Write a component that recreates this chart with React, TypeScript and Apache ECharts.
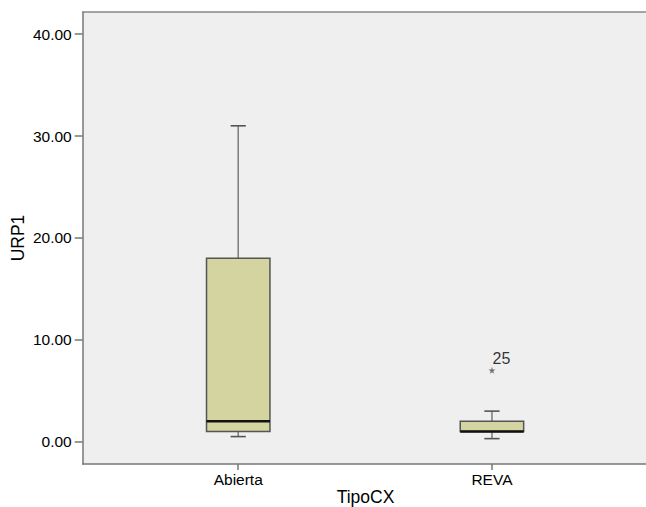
import React, { useEffect, useRef } from "react";
import * as echarts from "echarts";

const categories = ["Abierta", "REVA"];
const minValues = [0.5, 0.3];
const q1Values = [1, 1];
const medianValues = [2, 1];
const q3Values = [18, 2];
const maxValues = [31, 3];
const outlierPoints = [[1, 7]];
const outlierLabels = ["25"];
const yTicks = [0, 10, 20, 30, 40];
const xTicks = [0, 1];

const FONT = "'Liberation Sans', Arial, Helvetica, sans-serif";

export default function App() {
  const ref = useRef<HTMLDivElement>(null);
  useEffect(() => {
    if (!ref.current) return;
    const chart = echarts.init(ref.current, null, { renderer: "svg" });
    const boxData = categories.map((_, i) => [
      i,
      minValues[i],
      q1Values[i],
      medianValues[i],
      q3Values[i],
      maxValues[i],
    ]);
    const axisLineStyle = { color: "#777", width: 1.5 };
    const xMin = -0.613;
    const xMax = 1.82;
    chart.setOption({
      animation: false,
      backgroundColor: "#ffffff",
      textStyle: { fontFamily: FONT },
      grid: {
        left: 82.7,
        top: 12,
        right: 20,
        bottom: 43,
        containLabel: false,
        outerBoundsMode: "none",
        show: true,
        backgroundColor: "#efefef",
        borderWidth: 0,
      },
      xAxis: [
        {
          type: "value",
          min: xMin,
          max: xMax,
          axisLine: { show: true, onZero: false, lineStyle: axisLineStyle },
          axisTick: { show: true, length: 6, customValues: xTicks, lineStyle: axisLineStyle },
          axisLabel: {
            customValues: xTicks,
            formatter: (v: number) => categories[Math.round(v)] ?? "",
            fontSize: 15.5,
            color: "#000",
            margin: 7,
            fontFamily: FONT,
          },
          splitLine: { show: false },
        },
        {
          type: "value",
          position: "top",
          min: xMin,
          max: xMax,
          axisLine: { show: true, onZero: false, lineStyle: { color: "#888", width: 1.5 } },
          axisTick: { show: false },
          axisLabel: { show: false },
          splitLine: { show: false },
        },
      ],
      yAxis: {
        type: "value",
        min: -2.19,
        max: 42.17,
        name: "URP1",
        nameLocation: "middle",
        nameGap: 56,
        nameMoveOverlap: false,
        nameTextStyle: { fontSize: 17.5, color: "#000", fontFamily: FONT },
        axisLine: { show: true, onZero: false, lineStyle: axisLineStyle },
        axisTick: { show: true, length: 8, customValues: yTicks, lineStyle: axisLineStyle },
        axisLabel: {
          customValues: yTicks,
          formatter: (v: number) => v.toFixed(2),
          fontSize: 15.5,
          color: "#000",
          margin: 11,
          fontFamily: FONT,
        },
        splitLine: { show: false },
      },
      graphic: [
        {
          type: "text",
          x: 365.5,
          y: 497,
          style: {
            text: "TipoCX",
            fontSize: 17.5,
            fontFamily: FONT,
            fill: "#000",
            align: "center",
            verticalAlign: "middle",
          },
        },
      ],
      series: [
        {
          type: "custom",
          data: boxData,
          encode: { x: 0, y: [1, 2, 3, 4, 5] },
          renderItem: (params: any, api: any) => {
            const x = api.value(0);
            const pMin = api.coord([x, api.value(1)]);
            const pQ1 = api.coord([x, api.value(2)]);
            const pMed = api.coord([x, api.value(3)]);
            const pQ3 = api.coord([x, api.value(4)]);
            const pMax = api.coord([x, api.value(5)]);
            const cx = pMed[0];
            const half = api.size([0.25, 0])[0] / 2;
            const capHalf = api.size([0.06, 0])[0] / 2;
            const whisker = { stroke: "#808080", lineWidth: 1.6 };
            const cap = { stroke: "#555", lineWidth: 1.6 };
            return {
              type: "group",
              children: [
                { type: "line", shape: { x1: cx, y1: pQ3[1], x2: cx, y2: pMax[1] }, style: whisker },
                { type: "line", shape: { x1: cx, y1: pQ1[1], x2: cx, y2: pMin[1] }, style: whisker },
                { type: "line", shape: { x1: cx - capHalf, y1: pMax[1], x2: cx + capHalf, y2: pMax[1] }, style: cap },
                { type: "line", shape: { x1: cx - capHalf, y1: pMin[1], x2: cx + capHalf, y2: pMin[1] }, style: cap },
                {
                  type: "rect",
                  shape: { x: cx - half, y: pQ3[1], width: half * 2, height: pQ1[1] - pQ3[1] },
                  style: { fill: "#d3d4a0", stroke: "#555", lineWidth: 1.5 },
                },
                { type: "line", shape: { x1: cx - half, y1: pMed[1], x2: cx + half, y2: pMed[1] }, style: { stroke: "#111", lineWidth: 2.5 } },
              ],
            };
          },
        },
        {
          type: "scatter",
          data: outlierPoints,
          symbol:
            "path://M0,-1 L0.22,-0.3 L0.95,-0.3 L0.36,0.12 L0.59,0.81 L0,0.38 L-0.59,0.81 L-0.36,0.12 L-0.95,-0.3 L-0.22,-0.3 Z",
          symbolSize: 7,
          itemStyle: { color: "#555" },
          label: {
            show: true,
            position: "top",
            distance: 0,
            offset: [9.5, 0],
            formatter: (p: any) => outlierLabels[p.dataIndex],
            fontSize: 16,
            color: "#000",
            fontFamily: FONT,
          },
        },
      ],
    });
    return () => chart.dispose();
  }, []);
  return (
    <div
      style={{
        position: "absolute",
        left: 0,
        top: 0,
        width: 646,
        height: 507,
        overflow: "hidden",
      }}
    >
      <div ref={ref} style={{ width: 720, height: 507 }} />
    </div>
  );
}
